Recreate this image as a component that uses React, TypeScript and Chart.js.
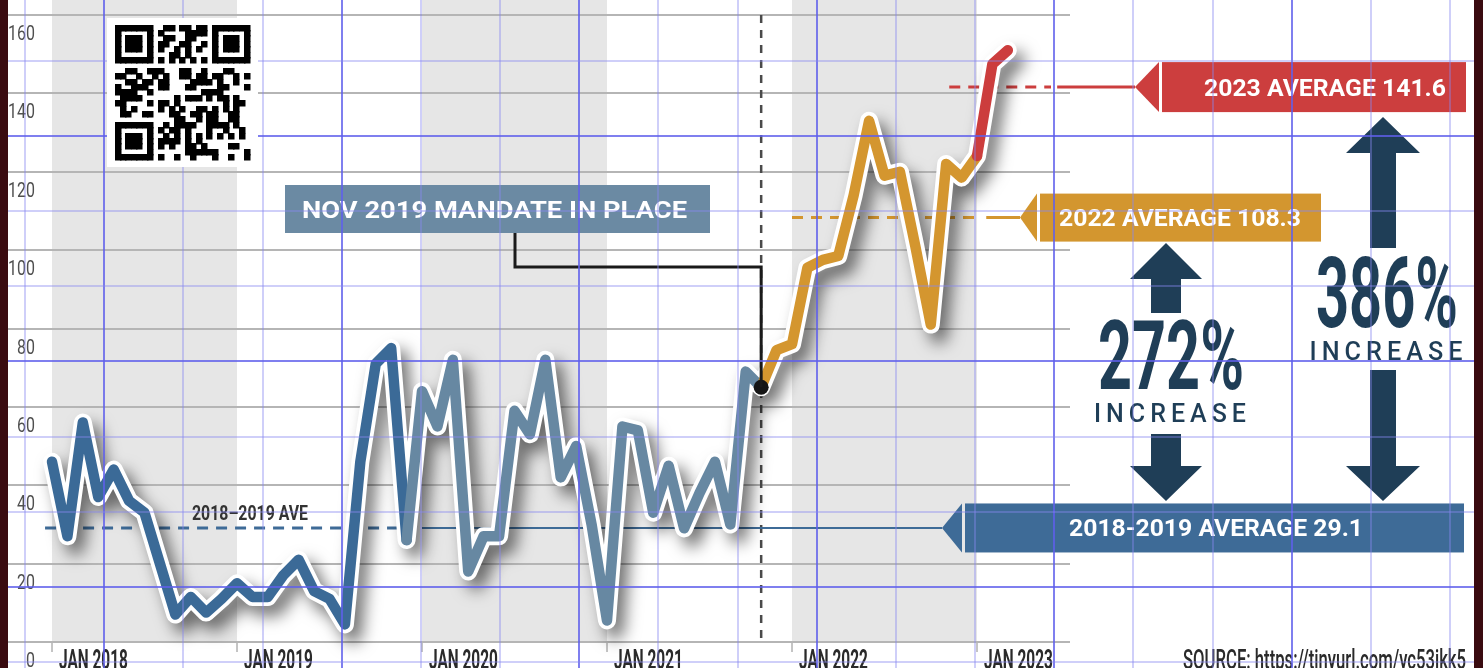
import React, { useEffect, useRef } from 'react';
import { Chart, registerables } from 'chart.js';

Chart.register(...registerables);

const W = 1483;
const H = 668;

// ---- data (monthly, Jan 2018 – Mar 2023) ----
const values2018 = [46, 27, 56, 37, 44, 36, 33, 20, 7, 11.5, 7.5, 11];
const values2019 = [15, 11.5, 11.5, 17, 21, 13, 11, 4.5, 46, 71, 75, 26];
const values2020 = [64, 55, 72, 18, 27, 27, 59, 53, 72, 42, 50, 30];
const values2021 = [5.5, 55, 54, 33, 45, 29, 38, 46, 30, 69, 65, 74.5];
const values2022 = [76, 95.5, 97.5, 98.5, 114, 133, 119, 120, 101, 81, 122, 118.5];
const values2023 = [124, 147.5, 151];

const years = ['2018', '2019', '2020', '2021', '2022', '2023'];
const monthNames = ['JAN', 'FEB', 'MAR', 'APR', 'MAY', 'JUN', 'JUL', 'AUG', 'SEP', 'OCT', 'NOV', 'DEC'];

const values = [...values2018, ...values2019, ...values2020, ...values2021, ...values2022, ...values2023];
const monthLabels = years.flatMap((y) => monthNames.map((m) => `${m} ${y}`)).slice(0, values.length);

const xTickLabels = ['JAN 2018', 'JAN 2019', 'JAN 2020', 'JAN 2021', 'JAN 2022', 'JAN 2023'];
const shadedYearStarts = ['JAN 2018', 'JAN 2020', 'JAN 2022'];
const yTickValues = [0, 20, 40, 60, 80, 100, 120, 140, 160];

// colour runs of the line (index where each run starts)
const runStarts = [0, 23, 46, 60];
const runColors = ['#3b6a97', '#6788a2', '#d4962f', '#cc3d3d'];

const mandateMonth = 'NOV 2021';
const mandateLabel = 'NOV 2019 MANDATE IN PLACE';

const avgLabels = ['2018-2019 AVERAGE 29.1', '2022 AVERAGE 108.3', '2023 AVERAGE 141.6'];
const avgValues = [29.1, 108.3, 141.6];
const avgColors = ['#3e6b97', '#d3962f', '#cc3e3e'];
// dashed span of each average line (month index)
const avgDashFrom = [-0.45, 48, 58.2];
const avgDashTo = [22.6, 60, 64.8];
const avgSolidFrom = [24, 60.6, 65.2];

const increaseLabels = ['272%', '386%'];

const sourceText = 'SOURCE: https://tinyurl.com/yc53jkk5';
const aveText = '2018\u20132019 AVE';

// ---- layout constants ----
const PLOT_LEFT = 8;
const PLOT_RIGHT = 1070;
const PLOT_TOP = 15;
const PLOT_BOTTOM = 642;
const ORIGIN_PX = 52; // pixel of month 0
const MONTH_PX = 15.4167;
const X_MIN = (PLOT_LEFT - ORIGIN_PX) / MONTH_PX;
const X_MAX = X_MIN + (PLOT_RIGHT - PLOT_LEFT) / MONTH_PX;

const NAVY = '#1f3e57';
const BAND = '#e6e6e6';
const MAROON = '#3a0b10';

type Align = 'left' | 'right' | 'center';

function drawText(
  ctx: CanvasRenderingContext2D,
  text: string,
  x: number,
  y: number,
  o: { font: string; color: string; width?: number; sx?: number; align?: Align; spacing?: number }
) {
  ctx.save();
  ctx.font = o.font;
  ctx.fillStyle = o.color;
  ctx.textBaseline = 'alphabetic';
  ctx.textAlign = 'left';
  const sp = o.spacing || 0;
  const chars = Array.from(text);
  const widths = chars.map((c) => ctx.measureText(c).width);
  const raw = sp ? widths.reduce((a, b) => a + b, 0) + sp * (chars.length - 1) : ctx.measureText(text).width;
  const sx = o.width ? o.width / raw : o.sx ?? 1;
  const w = raw * sx;
  const left = o.align === 'right' ? x - w : o.align === 'center' ? x - w / 2 : x;
  ctx.translate(left, y);
  ctx.scale(sx, 1);
  if (sp) {
    let cx = 0;
    chars.forEach((c, i) => {
      ctx.fillText(c, cx, 0);
      cx += widths[i] + sp;
    });
  } else {
    ctx.fillText(text, 0, 0);
  }
  ctx.restore();
}

function hLine(ctx: CanvasRenderingContext2D, x0: number, x1: number, y: number, color: string, w: number, dash: number[] = []) {
  ctx.save();
  ctx.strokeStyle = color;
  ctx.lineWidth = w;
  ctx.setLineDash(dash);
  ctx.beginPath();
  ctx.moveTo(x0, y);
  ctx.lineTo(x1, y);
  ctx.stroke();
  ctx.restore();
}

function drawBanner(
  ctx: CanvasRenderingContext2D,
  tipX: number,
  rectL: number,
  rectR: number,
  cy: number,
  h: number,
  color: string,
  label: string,
  textCx: number,
  textW: number
) {
  const top = cy - h / 2;
  const bot = cy + h / 2;
  ctx.save();
  ctx.fillStyle = color;
  ctx.beginPath();
  ctx.moveTo(tipX, cy);
  ctx.lineTo(rectL - 3, top);
  ctx.lineTo(rectL - 3, bot);
  ctx.closePath();
  ctx.fill();
  ctx.fillRect(rectL, top, rectR - rectL, h);
  ctx.restore();
  drawText(ctx, label, textCx, cy + 8.5, { font: 'bold 24px Roboto', color: '#ffffff', width: textW, align: 'center' });
}

function drawArrow(
  ctx: CanvasRenderingContext2D,
  cx: number,
  apexY: number,
  headBaseY: number,
  headHalf: number,
  shaftHalf: number,
  shaftEndY: number
) {
  ctx.save();
  ctx.fillStyle = NAVY;
  ctx.beginPath();
  ctx.moveTo(cx, apexY);
  ctx.lineTo(cx + headHalf, headBaseY);
  ctx.lineTo(cx + shaftHalf, headBaseY);
  ctx.lineTo(cx + shaftHalf, shaftEndY);
  ctx.lineTo(cx - shaftHalf, shaftEndY);
  ctx.lineTo(cx - shaftHalf, headBaseY);
  ctx.lineTo(cx - headHalf, headBaseY);
  ctx.closePath();
  ctx.fill();
  ctx.restore();
}

function drawQR(ctx: CanvasRenderingContext2D, x: number, y: number, size: number, n: number) {
  const m = size / n;
  const finder = (r: number, c: number) => {
    const test = (r0: number, c0: number) => {
      const rr = r - r0;
      const cc = c - c0;
      if (rr < -1 || rr > 7 || cc < -1 || cc > 7) return null;
      if (rr < 0 || rr > 6 || cc < 0 || cc > 6) return false;
      if (rr === 0 || rr === 6 || cc === 0 || cc === 6) return true;
      if (rr >= 2 && rr <= 4 && cc >= 2 && cc <= 4) return true;
      return false;
    };
    const a = test(0, 0);
    if (a !== null) return a;
    const b = test(0, n - 7);
    if (b !== null) return b;
    const d = test(n - 7, 0);
    if (d !== null) return d;
    return null;
  };
  ctx.save();
  ctx.fillStyle = '#ffffff';
  ctx.fillRect(x - 8, y - 7, size + 16, size + 14);
  ctx.fillStyle = '#000000';
  for (let r = 0; r < n; r++) {
    for (let c = 0; c < n; c++) {
      let dark: boolean;
      const f = finder(r, c);
      if (f !== null) dark = f;
      else if (r === 6) dark = c % 2 === 0;
      else if (c === 6) dark = r % 2 === 0;
      else dark = (r * r * 7 + c * 11 + r * c * 5 + (r ^ c)) % 9 < 4;
      if (dark) ctx.fillRect(Math.floor(x + c * m), Math.floor(y + r * m), Math.ceil(m) + 0.5, Math.ceil(m) + 0.5);
    }
  }
  ctx.restore();
}

const colorForIndex = (i: number) => {
  let col = runColors[0];
  runStarts.forEach((s, k) => {
    if (i >= s) col = runColors[k];
  });
  return col;
};

const infographicPlugin = {
  id: 'infographic',
  beforeDraw(chart: any) {
    const { ctx, chartArea, scales } = chart;
    const xs = scales.x;
    ctx.save();
    ctx.fillStyle = '#ffffff';
    ctx.fillRect(0, 0, W, H);
    ctx.fillStyle = BAND;
    shadedYearStarts.forEach((lbl) => {
      const k = monthLabels.indexOf(lbl);
      const x0 = xs.getPixelForValue(k);
      const x1 = xs.getPixelForValue(k + 12);
      ctx.fillRect(x0, 0, x1 - x0, chartArea.bottom);
    });
    ctx.restore();
  },
  beforeDatasetsDraw(chart: any) {
    const { ctx, chartArea, scales } = chart;
    const xs = scales.x;
    const ys = scales.y;
    // y tick labels (below each grid line)
    yTickValues.forEach((v) => {
      drawText(ctx, String(v), 35, ys.getPixelForValue(v) + 25, { font: '21px Roboto', color: '#4f4f4f', sx: 0.76, align: 'right' });
    });
    // x ticks + labels
    xTickLabels.forEach((lbl) => {
      const k = monthLabels.indexOf(lbl);
      const px = xs.getPixelForValue(k);
      ctx.save();
      ctx.strokeStyle = '#8a8a8a';
      ctx.lineWidth = 1;
      ctx.beginPath();
      ctx.moveTo(px, chartArea.bottom + 1);
      ctx.lineTo(px, chartArea.bottom + 10);
      ctx.stroke();
      ctx.restore();
      drawText(ctx, lbl, px + 7, 669, { font: 'bold 28px Roboto', color: '#2a2a2a', sx: 0.55 });
    });
    // mandate dashed vertical
    const mIdx = monthLabels.indexOf(mandateMonth);
    const mx = xs.getPixelForValue(mIdx);
    ctx.save();
    ctx.strokeStyle = '#4a4a4a';
    ctx.lineWidth = 2.5;
    ctx.setLineDash([8, 7]);
    ctx.beginPath();
    ctx.moveTo(mx, ys.getPixelForValue(160));
    ctx.lineTo(mx, ys.getPixelForValue(0));
    ctx.stroke();
    ctx.restore();
    // average lines
    const tips = [942, 1020, 1135];
    avgValues.forEach((v, i) => {
      const y = ys.getPixelForValue(v);
      hLine(ctx, xs.getPixelForValue(avgDashFrom[i]), xs.getPixelForValue(avgDashTo[i]), y, avgColors[i], 3, [11, 8]);
      hLine(ctx, xs.getPixelForValue(avgSolidFrom[i]), tips[i], y, avgColors[i], i === 0 ? 2 : 3);
    });
    // 2018-2019 ave text
    drawText(ctx, aveText, 192, ys.getPixelForValue(avgValues[0]) - 8, { font: 'bold 21px Roboto', color: '#333333', width: 116 });
  },
  beforeDatasetDraw(chart: any, args: any) {
    if (args.index === 0) {
      const ctx = chart.ctx;
      ctx.save();
      ctx.shadowColor = 'rgba(0,0,0,0.55)';
      ctx.shadowBlur = 16;
      ctx.shadowOffsetX = 8;
      ctx.shadowOffsetY = 10;
    }
  },
  afterDatasetDraw(chart: any, args: any) {
    if (args.index === 0) chart.ctx.restore();
  },
  afterDatasetsDraw(chart: any) {
    const { ctx, scales } = chart;
    const xs = scales.x;
    const ys = scales.y;
    const mIdx = monthLabels.indexOf(mandateMonth);
    const mx = xs.getPixelForValue(mIdx);
    const my = ys.getPixelForValue(values[mIdx]);
    // connector
    ctx.save();
    ctx.strokeStyle = '#1a1a1a';
    ctx.lineWidth = 3;
    ctx.lineJoin = 'miter';
    ctx.beginPath();
    ctx.moveTo(515, 233);
    ctx.lineTo(515, 267);
    ctx.lineTo(mx, 267);
    ctx.lineTo(mx, my);
    ctx.stroke();
    ctx.restore();
    // mandate box
    ctx.save();
    ctx.fillStyle = '#6b8aa3';
    ctx.fillRect(285, 185, 425, 48);
    ctx.restore();
    drawText(ctx, mandateLabel, 302, 218, { font: 'bold 24px Roboto', color: '#ffffff', width: 385 });

    // banners
    drawBanner(ctx, 942, 965, 1464, ys.getPixelForValue(avgValues[0]), 49, avgColors[0], avgLabels[0], 1216, 294);
    drawBanner(ctx, 1020, 1040, 1321, ys.getPixelForValue(avgValues[1]), 48, avgColors[1], avgLabels[1], 1180, 242);
    drawBanner(ctx, 1135, 1162, 1466, ys.getPixelForValue(avgValues[2]), 50, avgColors[2], avgLabels[2], 1325, 242);

    // arrows
    drawArrow(ctx, 1166, 243, 279, 36, 15, 313);
    drawArrow(ctx, 1166, 501, 466, 36, 15, 434);
    drawArrow(ctx, 1383, 117, 153, 37, 13, 248);
    drawArrow(ctx, 1383, 501, 466, 37, 13, 370);

    // percentages
    drawText(ctx, increaseLabels[0], 1171, 389, { font: 'bold 97px Roboto', color: NAVY, width: 146, align: 'center' });
    drawText(ctx, 'INCREASE', 1170, 422, { font: '500 25px Roboto', color: NAVY, width: 152, align: 'center', spacing: 5 });
    drawText(ctx, increaseLabels[1], 1387, 327, { font: 'bold 99px Roboto', color: NAVY, width: 142, align: 'center' });
    drawText(ctx, 'INCREASE', 1386, 360, { font: '500 25px Roboto', color: NAVY, width: 153, align: 'center', spacing: 5 });

    // source
    drawText(ctx, sourceText, 1466, 669, { font: '500 28px Roboto', color: '#2a2a2a', width: 283, align: 'right' });
  },
  afterDraw(chart: any) {
    const ctx: CanvasRenderingContext2D = chart.ctx;
    // measuring grid overlay
    ctx.save();
    for (let k = 0; k < 19; k++) {
      const x = Math.round(25 + 79.17 * k);
      const dark = k % 3 === 1;
      ctx.strokeStyle = dark ? 'rgba(95,95,235,0.8)' : 'rgba(135,135,240,0.4)';
      ctx.lineWidth = 2;
      ctx.beginPath();
      ctx.moveTo(x, 0);
      ctx.lineTo(x, H);
      ctx.stroke();
    }
    for (let k = 0; k < 9; k++) {
      const y = Math.round(61 + 75.1 * k);
      const dark = k % 3 === 1;
      ctx.strokeStyle = dark ? 'rgba(95,95,235,0.8)' : 'rgba(135,135,240,0.4)';
      ctx.lineWidth = 2;
      ctx.beginPath();
      ctx.moveTo(0, y);
      ctx.lineTo(W, y);
      ctx.stroke();
    }
    ctx.restore();
    // QR code
    drawQR(ctx, 115, 25, 135, 25);
    // dark edges
    ctx.save();
    ctx.fillStyle = MAROON;
    ctx.fillRect(0, 0, 8, H);
    ctx.fillRect(1474, 0, W - 1474, H);
    ctx.restore();
  },
};

export default function App() {
  const ref = useRef<HTMLCanvasElement>(null);

  useEffect(() => {
    document.body.style.margin = '0';
    const canvas = ref.current;
    if (!canvas) return;
    const points = values.map((v, i) => ({ x: i, y: v }));
    const mIdx = monthLabels.indexOf(mandateMonth);

    const chart = new Chart(canvas, {
      type: 'line',
      data: {
        datasets: [
          {
            label: 'outline',
            data: points,
            borderColor: '#ffffff',
            borderWidth: 18,
            pointRadius: 0,
            borderJoinStyle: 'round',
            borderCapStyle: 'round',
            tension: 0,
            clip: false as any,
            order: 3,
          },
          {
            label: 'incidents',
            data: points,
            borderColor: runColors[0],
            borderWidth: 10.5,
            pointRadius: 0,
            borderJoinStyle: 'round',
            borderCapStyle: 'round',
            tension: 0,
            clip: false as any,
            order: 2,
            segment: {
              borderColor: (c: any) => colorForIndex(c.p0DataIndex),
            },
          },
          {
            label: 'mandate',
            data: [{ x: mIdx, y: values[mIdx] }],
            showLine: false,
            pointRadius: 7.5,
            pointBackgroundColor: '#151515',
            pointBorderColor: '#151515',
            pointBorderWidth: 0,
            clip: false as any,
            order: 0,
          },
        ],
      } as any,
      options: {
        animation: false,
        responsive: false,
        devicePixelRatio: 1,
        layout: {
          padding: { left: PLOT_LEFT, right: W - PLOT_RIGHT, top: PLOT_TOP, bottom: H - PLOT_BOTTOM },
        },
        plugins: {
          legend: { display: false },
          tooltip: { enabled: false },
        },
        events: [],
        scales: {
          x: {
            type: 'linear',
            display: false,
            min: X_MIN,
            max: X_MAX,
          },
          y: {
            type: 'linear',
            min: 0,
            max: 160,
            ticks: { display: false, stepSize: 20 },
            grid: { color: '#b5b5b5', lineWidth: 2, drawTicks: false },
            border: { display: false },
          },
        },
      } as any,
      plugins: [infographicPlugin as any],
    });

    return () => chart.destroy();
  }, []);

  return (
    <div style={{ position: 'fixed', left: 0, top: 0, width: W, height: H }}>
      <canvas ref={ref} width={W} height={H} style={{ width: W, height: H, display: 'block' }} />
    </div>
  );
}
